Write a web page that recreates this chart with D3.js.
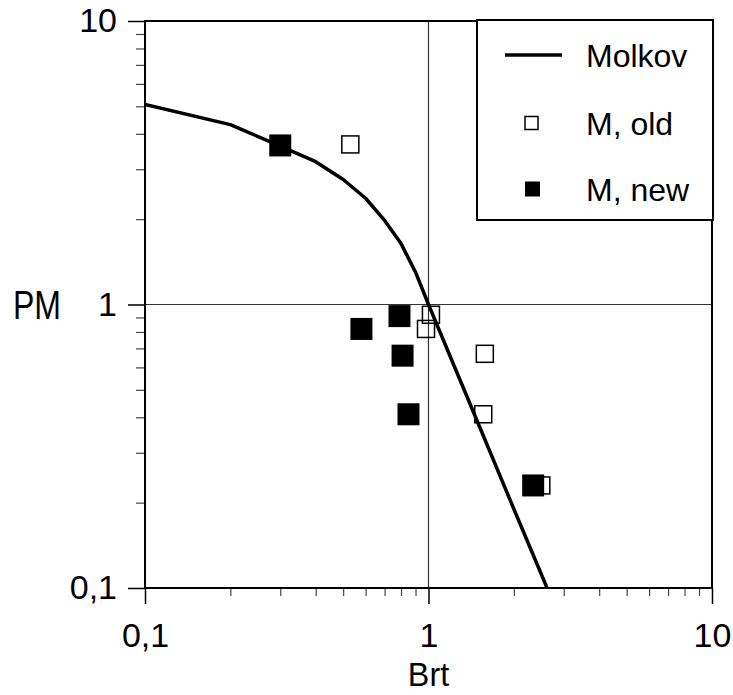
<!DOCTYPE html>
<html>
<head>
<meta charset="utf-8">
<script src="https://cdn.jsdelivr.net/npm/d3@7"></script>
<style>
  body { margin: 0; background: #fff; }
  text { font-family: "Liberation Sans", Arial, sans-serif; fill: #000; }
</style>
</head>
<body>
<svg id="chart" width="733" height="695"></svg>
<script>
// Molkov correlation curve
const molkovBrt = [0.1, 0.2, 0.3, 0.4, 0.5, 0.6, 0.7, 0.8, 0.9, 1.0, 1.5, 2.0, 2.62];
const molkovPM  = [5.08, 4.31, 3.62, 3.19, 2.76, 2.37, 1.98, 1.64, 1.30, 1.0, 0.379, 0.19, 0.1];
// M, old
const oldBrt = [0.53, 1.02, 0.98, 1.58, 1.56, 2.50];
const oldPM  = [3.67, 0.92, 0.82, 0.67, 0.41, 0.23];
// M, new
const newBrt = [0.30, 0.58, 0.79, 0.81, 0.85, 2.34];
const newPM  = [3.64, 0.82, 0.91, 0.66, 0.41, 0.23];

const tickValues = [0.1, 1, 10];
const tickLabels = ["0,1", "1", "10"];
const minorTicks = [0.2, 0.3, 0.4, 0.5, 0.6, 0.7, 0.8, 0.9, 2, 3, 4, 5, 6, 7, 8, 9];
const legendLabels = ["Molkov", "M, old", "M, new"];

const svg = d3.select("#chart");
const L = 145, R = 712, T = 21, B = 588;

const x = d3.scaleLog().domain([0.1, 10]).range([L, R]);
const y = d3.scaleLog().domain([0.1, 10]).range([B, T]);
const fmt = d => tickLabels[tickValues.indexOf(d)];

// reference lines at 1
svg.append("line").attr("x1", x(1)).attr("x2", x(1)).attr("y1", T).attr("y2", B)
  .attr("stroke", "#333").attr("stroke-width", 1.2);
svg.append("line").attr("x1", L).attr("x2", R).attr("y1", y(1)).attr("y2", y(1))
  .attr("stroke", "#333").attr("stroke-width", 1.2);

// minor ticks
const xMinor = svg.append("g").attr("transform", `translate(0,${B})`)
  .call(d3.axisBottom(x).tickValues(minorTicks).tickSize(8).tickFormat(""));
const yMinor = svg.append("g").attr("transform", `translate(${L},0)`)
  .call(d3.axisLeft(y).tickValues(minorTicks).tickSize(9).tickFormat(""));
[xMinor, yMinor].forEach(g => {
  g.select(".domain").remove();
  g.selectAll(".tick line").attr("stroke", "#444").attr("stroke-width", 1.2);
});

// major ticks and labels
const xAxis = svg.append("g").attr("transform", `translate(0,${B})`)
  .call(d3.axisBottom(x).tickValues(tickValues).tickSize(16).tickPadding(19).tickFormat(fmt));
const yAxis = svg.append("g").attr("transform", `translate(${L},0)`)
  .call(d3.axisLeft(y).tickValues(tickValues).tickSize(17).tickPadding(11).tickFormat(fmt));
[xAxis, yAxis].forEach(g => {
  g.select(".domain").remove();
  g.selectAll(".tick line").attr("stroke", "#000").attr("stroke-width", 1.5);
  g.selectAll(".tick text").attr("font-size", 34)
    .attr("font-family", "'Liberation Sans', Arial, sans-serif").attr("fill", "#000");
});

// frame
svg.append("rect").attr("x", L).attr("y", T).attr("width", R - L).attr("height", B - T)
  .attr("fill", "none").attr("stroke", "#000").attr("stroke-width", 2);

// clip for plotted data
svg.append("clipPath").attr("id", "plotClip")
  .append("rect").attr("x", L).attr("y", T).attr("width", R - L).attr("height", B - T);
const plot = svg.append("g").attr("clip-path", "url(#plotClip)");

const curve = molkovBrt.map((b, i) => [b, molkovPM[i]]);
plot.append("path").datum(curve)
  .attr("fill", "none").attr("stroke", "#000").attr("stroke-width", 3.5)
  .attr("stroke-linejoin", "round")
  .attr("d", d3.line().x(d => x(d[0])).y(d => y(d[1])));

const oldPts = oldBrt.map((b, i) => [b, oldPM[i]]);
const newPts = newBrt.map((b, i) => [b, newPM[i]]);
const so = 17, sn = 22;
plot.selectAll(".old").data(oldPts).join("rect").attr("class", "old")
  .attr("x", d => x(d[0]) - so / 2).attr("y", d => y(d[1]) - so / 2)
  .attr("width", so).attr("height", so)
  .attr("fill", "none").attr("stroke", "#000").attr("stroke-width", 1.5);
plot.selectAll(".new").data(newPts).join("rect").attr("class", "new")
  .attr("x", d => x(d[0]) - sn / 2).attr("y", d => y(d[1]) - sn / 2)
  .attr("width", sn).attr("height", sn).attr("fill", "#000");

// axis titles (narrow, tall lettering)
svg.append("text").attr("transform", `translate(${x(1)},686) scale(0.95,1)`)
  .attr("text-anchor", "middle").attr("font-size", 34).text("Brt");
svg.append("text").attr("transform", `translate(13,${y(1)}) scale(0.8,1)`)
  .attr("dy", "0.36em").attr("font-size", 40).text("PM");

// legend
const lg = svg.append("g");
lg.append("rect").attr("x", 477).attr("y", 20).attr("width", 236).attr("height", 200)
  .attr("fill", "#fff").attr("stroke", "#000").attr("stroke-width", 2);
const rowY = [55, 123, 189];
lg.append("line").attr("x1", 505).attr("x2", 562).attr("y1", rowY[0]).attr("y2", rowY[0])
  .attr("stroke", "#000").attr("stroke-width", 3.5);
lg.append("rect").attr("x", 525).attr("y", rowY[1] - 6.5).attr("width", 13).attr("height", 13)
  .attr("fill", "none").attr("stroke", "#000").attr("stroke-width", 1.5);
lg.append("rect").attr("x", 525).attr("y", rowY[2] - 7.5).attr("width", 15).attr("height", 15)
  .attr("fill", "#000");
lg.selectAll(".lt").data(legendLabels).join("text").attr("class", "lt")
  .attr("x", 586).attr("y", (d, i) => rowY[i]).attr("dy", "0.36em")
  .attr("font-size", 32).text(d => d);
</script>
</body>
</html>
